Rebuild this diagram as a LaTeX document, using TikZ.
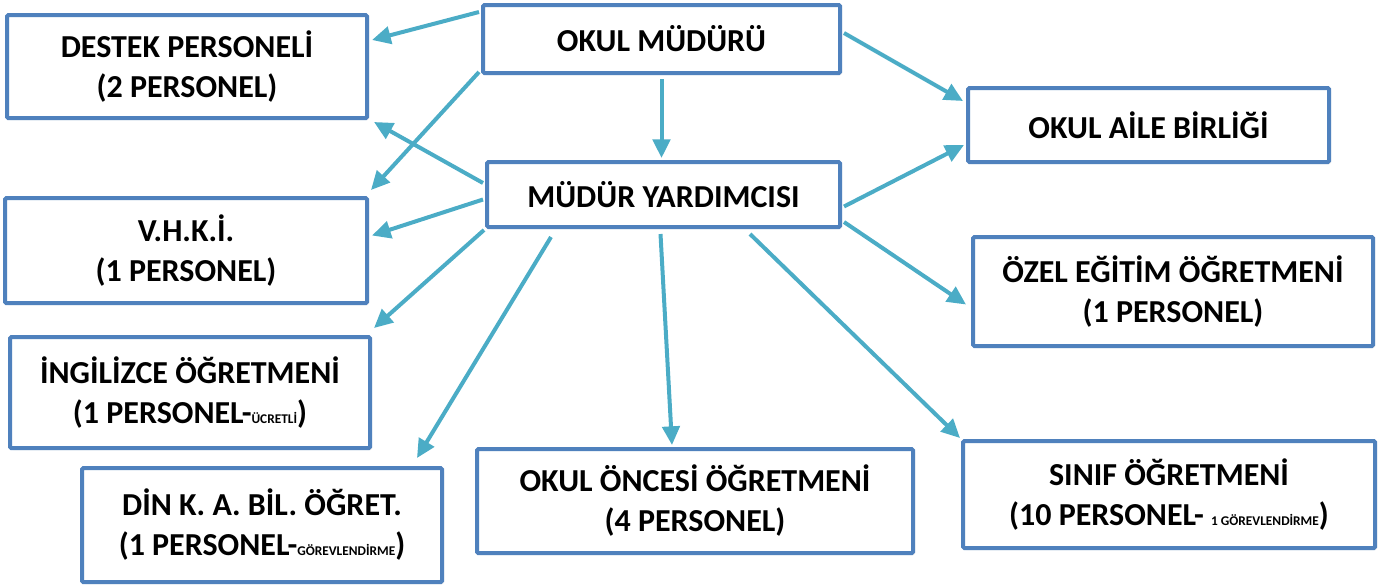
\documentclass[tikz,border=0pt]{standalone}
\usepackage{fontspec}
\setmainfont{Carlito}
\usetikzlibrary{arrows.meta,calc,shadows}
\definecolor{boxblue}{HTML}{4F81BD}
\definecolor{linkblue}{HTML}{4BACC6}
\tikzset{
  unit/.style={draw=boxblue,line width=3pt,fill=white,inner sep=0pt,align=center,
    rounded corners=1pt,font=\bfseries\fontsize{24}{30}\selectfont,
    drop shadow={opacity=0.18,shadow xshift=1.5pt,shadow yshift=-1.5pt}},
  link/.style={draw=linkblue,line width=3pt,-{Triangle[length=14pt,width=13pt]}}
}
\newcommand\kucuk[1]{{\fontsize{10}{10}\selectfont #1}}

\begin{document}
\begin{tikzpicture}[x=0.75pt,y=-0.75pt]
\useasboundingbox (0,0) rectangle (1391,587);
\node[unit,minimum width=267.75pt,minimum height=51pt] (mudur) at (661.5,39) {OKUL MÜDÜRÜ};
\node[unit,minimum width=264.75pt,minimum height=48.75pt] (yard) at (663.5,194.5) {MÜDÜR YARDIMCISI};
\node[unit,minimum width=270pt,minimum height=77.25pt] (destek) at (187,66.5) {DESTEK PERSONELİ\\(2 PERSONEL)};
\node[unit,minimum width=271.5pt,minimum height=78.75pt] (vhki) at (186,250.5) {V.H.K.İ.\\(1 PERSONEL)};
\node[unit,minimum width=270pt,minimum height=83.25pt] (ingilizce) at (190,392.5) {İNGİLİZCE ÖĞRETMENİ\\(1 PERSONEL-\kucuk{ÜCRETLİ})};
\node[unit,minimum width=270pt,minimum height=85.5pt] (din) at (262,525) {DİN K. A. BİL. ÖĞRET.\\(1 PERSONEL-\kucuk{GÖREVLENDİRME})};
\node[unit,minimum width=327pt,minimum height=78pt] (oncesi) at (695,501) {OKUL ÖNCESİ ÖĞRETMENİ\\(4 PERSONEL)};
\node[unit,minimum width=309pt,minimum height=80.25pt] (sinif) at (1169,494.5) {SINIF ÖĞRETMENİ\\(10 PERSONEL- \kucuk{1 GÖREVLENDİRME})};
\node[unit,minimum width=270.75pt,minimum height=55.5pt] (aile) at (1148.5,125) {OKUL AİLE BİRLİĞİ};
\node[unit,minimum width=300pt,minimum height=81.75pt] (ozel) at (1173,291.5) {ÖZEL EĞİTİM ÖĞRETMENİ\\(1 PERSONEL)};

\draw[link] ($(mudur.north west)+(-2,9)$) -- ($(destek.north east)+(3,27)$);
\draw[link] ($(mudur.south west)+(-2,-3)$) -- ($(vhki.north east)+(2,-6)$);
\draw[link] ($(mudur.south)+(0,4)$) -- ($(mudur.south |- yard.north)+(0,-2)$);
\draw[link] ($(mudur.east)+(2,-6)$) -- ($(aile.north west)+(-3,15)$);
\draw[link] ($(yard.north west)+(-2,23)$) -- ($(destek.south east)+(5,2)$);
\draw[link] ($(yard.west)+(-2,5)$) -- ($(vhki.east)+(3,-15)$);
\draw[link] ($(yard.south west)+(-1,1)$) -- ($(ingilizce.north east)+(2,-7)$);
\draw[link] ($(yard.south west)+(66,8)$) -- ($(din.north east)+(-27,-8)$);
\draw[link] ($(yard.south)+(-3,5)$) -- ($(oncesi.north)+(-23,-2)$);
\draw[link] ($(yard.south east)+(-92,5)$) -- ($(sinif.north west)+(-1,-1)$);
\draw[link] ($(yard.east)+(2,12)$) -- ($(aile.south west)+(-2,-19)$);
\draw[link] ($(yard.south east)+(2,-7)$) -- ($(ozel.west)+(-5,13)$);
\end{tikzpicture}
\end{document}
